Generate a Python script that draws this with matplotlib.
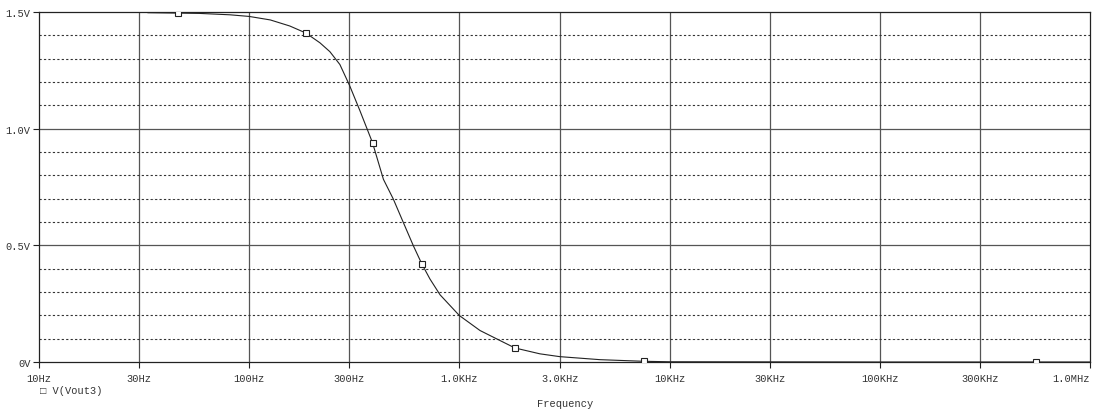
import matplotlib.pyplot as plt
import numpy as np

# V(Vout3)
freq = [33, 58, 81, 100, 126, 156, 186, 217, 242, 270, 300, 336, 386, 435,
        485, 541, 604, 662, 724, 809, 1000, 1253, 1560, 1839, 2416, 3000,
        4665, 7550, 10000, 100000, 1000000]
vout = [1.497, 1.494, 1.488, 1.481, 1.466, 1.440, 1.410, 1.368, 1.330, 1.275,
        1.186, 1.078, 0.940, 0.783, 0.698, 0.598, 0.498, 0.421, 0.356, 0.288,
        0.199, 0.135, 0.092, 0.060, 0.035, 0.023, 0.010, 0.003, 0.001, 0.0, 0.0]
marker_freq = [46, 186, 386, 662, 1839, 7550, 553000]

xticks = [10, 30, 100, 300, 1e3, 3e3, 1e4, 3e4, 1e5, 3e5, 1e6]
xlabels = ['10Hz', '30Hz', '100Hz', '300Hz', '1.0KHz', '3.0KHz', '10KHz',
           '30KHz', '100KHz', '300KHz', '1.0MHz']
yticks = [0, 0.5, 1.0, 1.5]
ylabels = ['0V', '0.5V', '1.0V', '1.5V']

mono = ['Liberation Mono', 'DejaVu Sans Mono']
txt_col = '#333333'

fig = plt.figure(figsize=(10.97, 4.14), dpi=100)
ax = fig.add_axes([39/1097, 1-363/414, (1090-39)/1097, (363-13)/414])
ax.set_xscale('log')
ax.set_xlim(10, 1e6)
ax.set_ylim(0, 1.5)

# grid: solid verticals, solid at 0.5V steps, dotted at 0.1V steps
for f in xticks[1:-1]:
    ax.axvline(f, color='#555555', lw=0.9, zorder=1)
for v in np.arange(0.1, 1.5, 0.1):
    if abs(v - 0.5) < 1e-6 or abs(v - 1.0) < 1e-6:
        ax.axhline(v, color='#555555', lw=0.9, zorder=1)
    else:
        ax.axhline(v, color='#333333', lw=0.8, ls=(0, (2, 2)), zorder=1)

ax.plot(freq, vout, color='#222222', lw=0.8, zorder=3)
ax.plot(marker_freq, np.interp(np.log10(marker_freq), np.log10(freq), vout),
        ls='none', marker='s', ms=4.5, mfc='white', mec='#222222', mew=0.8, zorder=4)

for s in ax.spines.values():
    s.set_color('#222222')
    s.set_linewidth(0.9)

ax.set_xticks(xticks)
ax.set_xticklabels(xlabels, family=mono, fontsize=7.5, color=txt_col)
ax.get_xticklabels()[-1].set_ha('right')
ax.xaxis.set_minor_locator(plt.NullLocator())
ax.set_yticks(yticks)
ax.set_yticklabels(ylabels, family=mono, fontsize=7.5, color=txt_col)
ax.tick_params(axis='both', length=4, width=0.8, color='#222222', pad=2)
ax.tick_params(axis='x', pad=4)

fig.text(565/1097, 1-404/414, 'Frequency', family=mono, fontsize=7.5,
         color=txt_col, ha='center', va='center')
fig.text(40/1097, 1-391/414, '\u25a1 V(Vout3)', family=mono, fontsize=7.5,
         color=txt_col, ha='left', va='center')

fig.savefig('out.png', dpi=100)
